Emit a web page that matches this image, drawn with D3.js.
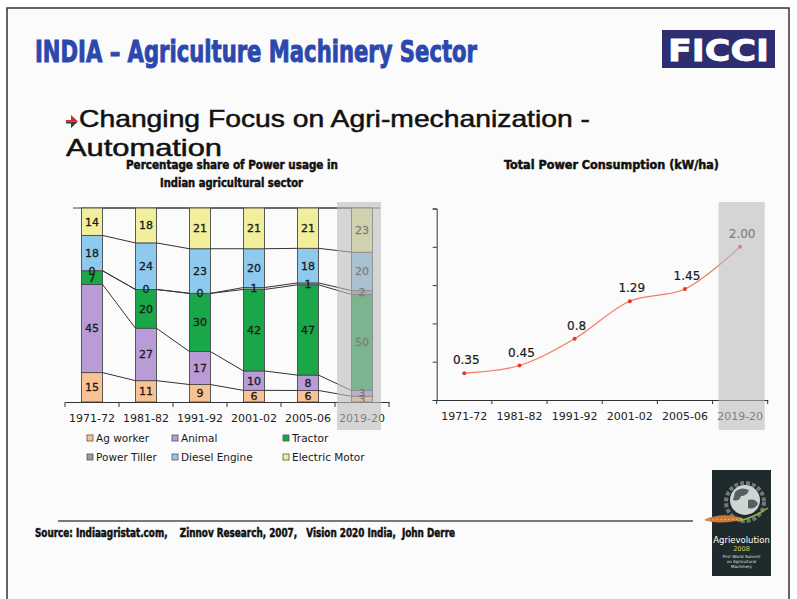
<html>
<head>
<meta charset="utf-8">
<script src="https://cdn.jsdelivr.net/npm/d3@7"></script>
<style>
  body { margin: 0; background: #fff; }
  text { white-space: pre; }
</style>
</head>
<body>
<div id="chart"></div>
<script>
// ---- data ----
var categories = ["1971-72", "1981-82", "1991-92", "2001-02", "2005-06", "2019-20"];
var seriesNames = ["Ag worker", "Animal", "Tractor", "Power Tiller", "Diesel Engine", "Electric Motor"];
var seriesColors = ["#f8c293", "#b99bd7", "#19a74a", "#9a9a9a", "#8ec9ee", "#f2ef9c"];

var agWorker = [15, 11, 9, 6, 6, 3];
var animal = [45, 27, 17, 10, 8, 3];
var tractor = [7, 20, 30, 42, 47, 50];
var powerTiller = [0, 0, 0, 1, 1, 2];
var dieselEngine = [18, 24, 23, 20, 18, 20];
var electricMotor = [14, 18, 21, 21, 21, 23];

var powerPerHa = [0.35, 0.45, 0.8, 1.29, 1.45, 2.00];
var powerLabels = ["0.35", "0.45", "0.8", "1.29", "1.45", "2.00"];
var powerTicks = [0, 0.5, 1, 1.5, 2, 2.5];

var W = 797, H = 599;
var condensed = "'DejaVu Sans Condensed', 'Liberation Sans Narrow', sans-serif";
var plain = "'DejaVu Sans', Verdana, sans-serif";

var svg = d3.select("#chart").append("svg")
    .attr("width", W).attr("height", H);

// slide frame
svg.append("rect").attr("x", 7).attr("y", 8).attr("width", 782).attr("height", H)
    .attr("fill", "#fbfbfb").attr("stroke", "#333").attr("stroke-width", 1.5);

// header
svg.append("text")
    .attr("x", 35).attr("y", 62)
    .attr("textLength", 442).attr("lengthAdjust", "spacingAndGlyphs")
    .style("font-family", condensed).style("font-weight", "bold").style("font-size", "30px")
    .style("fill", "#2b48ad").style("stroke", "#2b48ad").style("stroke-width", 0.9)
    .text("INDIA \u2013 Agriculture Machinery Sector");

svg.append("rect").attr("x", 662).attr("y", 30).attr("width", 113).attr("height", 38)
    .attr("fill", "#2c2e70");
svg.append("text")
    .attr("x", 668).attr("y", 61)
    .attr("textLength", 101).attr("lengthAdjust", "spacingAndGlyphs")
    .style("font-family", plain).style("font-weight", "bold").style("font-size", "31px")
    .style("fill", "#fff").style("stroke", "#fff").style("stroke-width", 0.8)
    .text("FICCI");

// bullet arrow
svg.append("path").attr("d", "M66,120 L71,120 L71,115 L78,121.5 L66,121.5 Z").attr("fill", "#d8242a");
svg.append("path").attr("d", "M66,121.5 L78,121.5 L71,128 L71,123.5 L66,123.5 Z").attr("fill", "#3a3a3a");

var subStyle = function (t) {
    t.style("font-family", "'Liberation Sans', Arial, sans-serif").style("font-size", "24px")
        .style("fill", "#111").style("stroke", "#111").style("stroke-width", 0.5);
};
svg.append("text")
    .attr("x", 79).attr("y", 127)
    .attr("textLength", 511).attr("lengthAdjust", "spacingAndGlyphs")
    .call(subStyle)
    .text("Changing Focus on Agri-mechanization -");
svg.append("text")
    .attr("x", 66).attr("y", 156)
    .attr("textLength", 156).attr("lengthAdjust", "spacingAndGlyphs")
    .call(subStyle)
    .text("Automation");

// chart titles
function boldTitle(x, y, len, txt) {
    svg.append("text")
        .attr("x", x).attr("y", y)
        .attr("textLength", len).attr("lengthAdjust", "spacingAndGlyphs")
        .style("font-family", condensed).style("font-weight", "bold").style("font-size", "13px")
        .style("fill", "#111").style("stroke", "#111").style("stroke-width", 0.5)
        .text(txt);
}
boldTitle(126, 169, 212, "Percentage share of Power usage in");
boldTitle(160, 187, 143, "Indian agricultural sector");
boldTitle(504, 169, 215, "Total Power Consumption (kW/ha)");

// ---- left chart: 100% stacked columns ----
var rows = categories.map(function (c, i) {
    return {
        cat: c,
        "Ag worker": agWorker[i], "Animal": animal[i], "Tractor": tractor[i],
        "Power Tiller": powerTiller[i], "Diesel Engine": dieselEngine[i], "Electric Motor": electricMotor[i]
    };
});
var stacked = d3.stack().keys(seriesNames).offset(d3.stackOffsetExpand)(rows);

var x1 = d3.scaleBand().domain(categories).range([65, 389]);
var y1 = d3.scaleLinear().domain([0, 1]).range([402, 208]);
var barW = x1.bandwidth() * 0.39;
var barX = function (c) { return x1(c) + (x1.bandwidth() - barW) / 2; };

var left = svg.append("g");

// plot top border
left.append("line")
    .attr("x1", 73).attr("x2", 380).attr("y1", y1(1)).attr("y2", y1(1))
    .attr("stroke", "#444").attr("stroke-width", 1);

stacked.forEach(function (layer, si) {
    left.selectAll(null).data(layer).enter().append("rect")
        .attr("x", function (d) { return barX(d.data.cat); })
        .attr("y", function (d) { return y1(d[1]); })
        .attr("width", barW)
        .attr("height", function (d) { return y1(d[0]) - y1(d[1]); })
        .attr("fill", seriesColors[si])
        .attr("stroke", "#4a4a4a").attr("stroke-width", 0.9);
});

// series lines between columns
stacked.forEach(function (layer) {
    for (var i = 0; i < layer.length - 1; i++) {
        left.append("line")
            .attr("x1", barX(categories[i]) + barW).attr("y1", y1(layer[i][1]))
            .attr("x2", barX(categories[i + 1])).attr("y2", y1(layer[i + 1][1]))
            .attr("stroke", "#333").attr("stroke-width", 1);
    }
});

// segment labels
stacked.forEach(function (layer, si) {
    left.selectAll(null).data(layer).enter().append("text")
        .attr("x", function (d) { return barX(d.data.cat) + barW / 2; })
        .attr("y", function (d) { return (y1(d[0]) + y1(d[1])) / 2; })
        .attr("dy", "0.36em")
        .attr("text-anchor", "middle")
        .style("font-family", plain).style("font-size", "11px").style("fill", "#1a1a1a")
        .style("stroke", "#1a1a1a").style("stroke-width", 0.3)
        .text(function (d) { return d.data[seriesNames[si]]; });
});

// x axis
var ax1 = left.append("g").attr("transform", "translate(0," + y1(0) + ")")
    .call(d3.axisBottom(x1).tickSize(0).tickPadding(12));
ax1.select(".domain").attr("stroke", "#333");
ax1.selectAll("text")
    .style("font-family", plain).style("font-size", "11px").style("fill", "#222");
ax1.selectAll(null).data(categories.concat(["end"])).enter().append("line")
    .attr("x1", function (d, i) { return x1.range()[0] + i * x1.step(); })
    .attr("x2", function (d, i) { return x1.range()[0] + i * x1.step(); })
    .attr("y1", 0).attr("y2", 5)
    .attr("stroke", "#333");

// forecast shading
left.append("rect")
    .attr("x", x1(categories[5]) + 2).attr("y", 202)
    .attr("width", x1.bandwidth() - 10).attr("height", 228)
    .attr("fill", "#bdbdbd").attr("opacity", 0.6);

// legend
var legX = [87, 172, 283];
var legY = [438, 457];
seriesNames.forEach(function (name, i) {
    var gx = legX[i % 3], gy = legY[Math.floor(i / 3)];
    left.append("rect").attr("x", gx).attr("y", gy - 3).attr("width", 6).attr("height", 6)
        .attr("fill", seriesColors[i]).attr("stroke", "#555").attr("stroke-width", 0.8);
    left.append("text").attr("x", gx + 9).attr("y", gy).attr("dy", "0.36em")
        .style("font-family", plain).style("font-size", "10.5px").style("fill", "#1a1a1a")
        .text(name);
});

// ---- right chart: smoothed line ----
var x2 = d3.scaleBand().domain(categories).range([436.7, 767.7]);
var y2 = d3.scaleLinear().domain([0, 2.5]).range([400, 208.5]);
var right = svg.append("g");

var axL = right.append("g").attr("transform", "translate(" + x2.range()[0] + ",0)")
    .call(d3.axisLeft(y2).tickValues(powerTicks).tickSize(4).tickFormat(""));
axL.selectAll("path,line").attr("stroke", "#333");

var axB = right.append("g").attr("transform", "translate(0," + y2(0) + ")")
    .call(d3.axisBottom(x2).tickSize(0).tickPadding(12));
axB.select(".domain").attr("stroke", "#333");
axB.selectAll("text")
    .style("font-family", plain).style("font-size", "11px").style("fill", "#222");
axB.selectAll(null).data(categories.concat(["end"])).enter().append("line")
    .attr("x1", function (d, i) { return x2.range()[0] + i * x2.step(); })
    .attr("x2", function (d, i) { return x2.range()[0] + i * x2.step(); })
    .attr("y1", 0).attr("y2", 4)
    .attr("stroke", "#333");

var pts = categories.map(function (c, i) {
    return { x: x2(c) + x2.bandwidth() / 2, y: y2(powerPerHa[i]), label: powerLabels[i] };
});

right.append("path")
    .datum(pts)
    .attr("d", d3.line().x(function (d) { return d.x; }).y(function (d) { return d.y; })
        .curve(d3.curveCatmullRom.alpha(0.5)))
    .attr("fill", "none").attr("stroke", "#f07a62").attr("stroke-width", 1.2);

right.selectAll(null).data(pts).enter().append("circle")
    .attr("cx", function (d) { return d.x; }).attr("cy", function (d) { return d.y; })
    .attr("r", 2).attr("fill", "#e2382a");

right.selectAll(null).data(pts).enter().append("text")
    .attr("x", function (d) { return d.x + 2; }).attr("y", function (d) { return d.y - 9; })
    .attr("text-anchor", "middle")
    .style("font-family", plain).style("font-size", "12px").style("fill", "#1a1a1a")
    .style("stroke", "#1a1a1a").style("stroke-width", 0.2)
    .text(function (d) { return d.label; });

right.append("rect")
    .attr("x", x2(categories[5]) + 6).attr("y", 202)
    .attr("width", x2.bandwidth() - 9).attr("height", 228)
    .attr("fill", "#bdbdbd").attr("opacity", 0.6);

// ---- footer ----
svg.append("line").attr("x1", 58).attr("x2", 693).attr("y1", 521).attr("y2", 521)
    .attr("stroke", "#7a7a7a").attr("stroke-width", 2);
svg.append("text")
    .attr("x", 35).attr("y", 537)
    .attr("textLength", 420).attr("lengthAdjust", "spacingAndGlyphs")
    .style("font-family", condensed).style("font-weight", "bold").style("font-size", "12px")
    .style("fill", "#111").style("stroke", "#111").style("stroke-width", 0.5)
    .text("Source: Indiaagristat.com,    Zinnov Research, 2007,   Vision 2020 India,  John Derre");

// Agrievolution badge
var logo = svg.append("g");
logo.append("rect").attr("x", 712).attr("y", 470).attr("width", 59).attr("height", 106).attr("fill", "#1e2a2b");
logo.append("circle").attr("cx", 745).attr("cy", 502).attr("r", 19).attr("fill", "none")
    .attr("stroke", "#6f7777").attr("stroke-width", 4).attr("stroke-dasharray", "4 2");
logo.append("circle").attr("cx", 745).attr("cy", 500).attr("r", 15).attr("fill", "#cfd5d4");
logo.append("path").attr("d", "M735,492 q6,-6 14,-2 q-2,6 -8,6 q-2,6 -8,4 z M748,500 q8,-2 10,4 q-4,6 -10,4 z")
    .attr("fill", "#55605f");
logo.append("path").attr("d", "M704,520 C716,514 732,514 744,519 C732,523 716,524 704,520 Z")
    .attr("fill", "#c9793a");
logo.append("path").attr("d", "M708,520 L742,519").attr("stroke", "#f1b26a").attr("stroke-width", 1)
    .attr("stroke-dasharray", "2 2");
logo.append("path").attr("d", "M738,521 C752,518 762,512 768,508").attr("fill", "none")
    .attr("stroke", "#8cbf3a").attr("stroke-width", 1.5);
logo.append("text").attr("x", 741.5).attr("y", 543).attr("text-anchor", "middle")
    .style("font-family", plain).style("font-size", "8.5px").style("fill", "#fff").text("Agrievolution");
logo.append("text").attr("x", 741.5).attr("y", 551).attr("text-anchor", "middle")
    .style("font-family", plain).style("font-size", "6.5px").style("fill", "#c8d64a").text("2008");
["First World Summit", "on Agricultural", "Machinery"].forEach(function (t, i) {
    logo.append("text").attr("x", 741.5).attr("y", 558 + i * 5).attr("text-anchor", "middle")
        .style("font-family", plain).style("font-size", "4px").style("fill", "#dfe3e3").text(t);
});
</script>
</body>
</html>
